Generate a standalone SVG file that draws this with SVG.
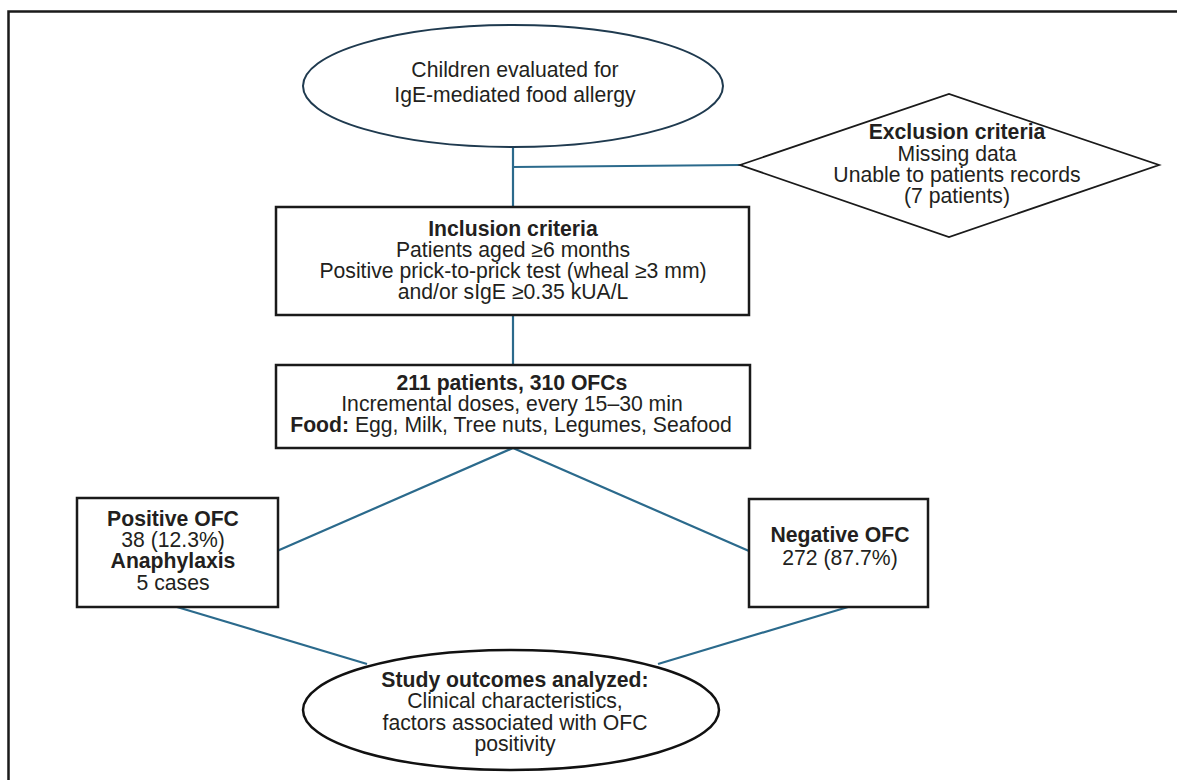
<svg xmlns="http://www.w3.org/2000/svg" width="1177" height="780" viewBox="0 0 1177 780">
<style>
text{font-family:"Liberation Sans",Arial,sans-serif;font-size:21.2px;fill:#231f20;text-anchor:middle}
.b{font-weight:bold}
.box{fill:#fff;stroke:#1a1a1a;stroke-width:2.5}
.oval{fill:#fff;stroke:#1f3a4f;stroke-width:2}
.conn{stroke:#2b6a8c;stroke-width:2.2;fill:none}
</style>
<rect width="1177" height="780" fill="#fff"/>
<path d="M8.5,780 V11.5 H1177" fill="none" stroke="#1a1a1a" stroke-width="2.5"/>
<g id="connectors">
<line class="conn" x1="513" y1="147" x2="513" y2="207"/>
<line class="conn" x1="513" y1="167" x2="740" y2="165"/>
<line class="conn" x1="513" y1="315" x2="513" y2="365"/>
<line class="conn" x1="513" y1="448" x2="277" y2="551"/>
<line class="conn" x1="513" y1="448" x2="749" y2="551"/>
<line class="conn" x1="177" y1="607" x2="367" y2="664"/>
<line class="conn" x1="848" y1="607" x2="658" y2="664"/>
</g>
<g id="start">
<ellipse class="oval" cx="513" cy="86" rx="210" ry="61"/>
<text x="515" y="77">Children evaluated for</text>
<text x="515" y="102">IgE-mediated food allergy</text>
</g>
<g id="exclusion">
<polygon points="740,165 949,94 1159,165 949,237" fill="#fff" stroke="#1a1a1a" stroke-width="1.8"/>
<text class="b" x="957" y="139">Exclusion criteria</text>
<text x="957" y="161">Missing data</text>
<text x="957" y="182">Unable to patients records</text>
<text x="957" y="203">(7 patients)</text>
</g>
<g id="inclusion">
<rect class="box" x="276" y="207" width="473" height="108"/>
<text class="b" x="513" y="236">Inclusion criteria</text>
<text x="513" y="257">Patients aged ≥6 months</text>
<text x="513" y="278">Positive prick-to-prick test (wheal ≥3 mm)</text>
<text x="513" y="299">and/or sIgE ≥0.35 kUA/L</text>
</g>
<g id="ofc">
<rect class="box" x="276" y="365" width="474" height="83"/>
<text class="b" x="512" y="390">211 patients, 310 OFCs</text>
<text x="512" y="411">Incremental doses, every 15–30 min</text>
<text x="511" y="432"><tspan class="b">Food:</tspan> Egg, Milk, Tree nuts, Legumes, Seafood</text>
</g>
<g id="positive">
<rect class="box" x="77" y="498" width="201" height="109"/>
<text class="b" x="173" y="526">Positive OFC</text>
<text x="173" y="547">38 (12.3%)</text>
<text class="b" x="173" y="568">Anaphylaxis</text>
<text x="173" y="590">5 cases</text>
</g>
<g id="negative">
<rect class="box" x="749" y="499" width="179" height="108"/>
<text class="b" x="840" y="542">Negative OFC</text>
<text x="840" y="565">272 (87.7%)</text>
</g>
<g id="outcomes">
<ellipse cx="511" cy="710" rx="208" ry="60" fill="#fff" stroke="#111" stroke-width="2.5"/>
<text class="b" x="515" y="687">Study outcomes analyzed:</text>
<text x="515" y="708">Clinical characteristics,</text>
<text x="515" y="730">factors associated with OFC</text>
<text x="515" y="751">positivity</text>
</g>
</svg>
